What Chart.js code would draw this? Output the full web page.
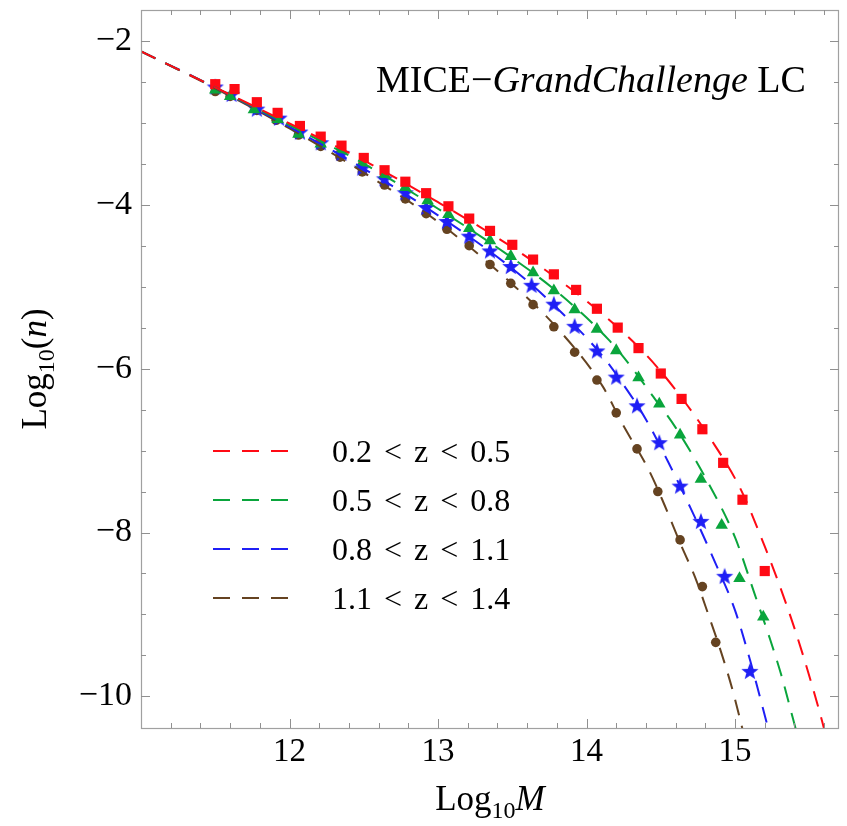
<!DOCTYPE html>
<html>
<head>
<meta charset="utf-8">
<script src="https://cdn.jsdelivr.net/npm/chart.js@4/dist/chart.umd.min.js"></script>
<style>
  html, body { margin: 0; padding: 0; background: #fff; }
</style>
</head>
<body>
<canvas id="hmf" width="847" height="826"></canvas>
<script>
// --- data (Log10 M, Log10 n) ---
const seriesLabels = ['0.2 < z < 0.5', '0.5 < z < 0.8', '0.8 < z < 1.1', '1.1 < z < 1.4'];
const seriesColors = ['#ff0a14', '#0aa53c', '#1f1ff5', '#654321'];

// simulation points
const redX = [11.50, 11.63, 11.78, 11.92, 12.07, 12.21, 12.35, 12.50, 12.64, 12.78, 12.92, 13.07, 13.21, 13.35, 13.50, 13.64, 13.78, 13.93, 14.07, 14.21, 14.35, 14.50, 14.64, 14.78, 14.92, 15.05, 15.20];
const redY = [-2.53, -2.59, -2.75, -2.88, -3.04, -3.17, -3.28, -3.43, -3.58, -3.72, -3.86, -4.02, -4.17, -4.32, -4.49, -4.67, -4.85, -5.04, -5.27, -5.50, -5.75, -6.06, -6.37, -6.74, -7.15, -7.60, -8.47];
const greenX = [11.50, 11.60, 11.76, 11.92, 12.06, 12.21, 12.35, 12.49, 12.64, 12.78, 12.93, 13.07, 13.21, 13.35, 13.49, 13.64, 13.78, 13.92, 14.07, 14.20, 14.35, 14.49, 14.63, 14.77, 14.91, 15.03, 15.19];
const greenY = [-2.60, -2.68, -2.84, -2.96, -3.14, -3.26, -3.33, -3.49, -3.63, -3.79, -3.95, -4.12, -4.29, -4.44, -4.63, -4.83, -5.05, -5.28, -5.52, -5.78, -6.11, -6.43, -6.81, -7.35, -7.91, -8.56, -9.03];
const blueX = [11.50, 11.61, 11.78, 11.93, 12.07, 12.21, 12.35, 12.49, 12.64, 12.78, 12.92, 13.06, 13.21, 13.35, 13.49, 13.63, 13.78, 13.92, 14.07, 14.20, 14.34, 14.49, 14.63, 14.77, 14.93, 15.10];
const blueY = [-2.57, -2.66, -2.84, -2.95, -3.12, -3.25, -3.38, -3.56, -3.69, -3.86, -4.04, -4.21, -4.39, -4.57, -4.76, -4.99, -5.22, -5.49, -5.79, -6.11, -6.46, -6.91, -7.44, -7.87, -8.54, -9.70];
const brownX = [11.50, 11.60, 11.78, 11.91, 12.06, 12.21, 12.34, 12.49, 12.64, 12.78, 12.92, 13.06, 13.21, 13.35, 13.49, 13.64, 13.78, 13.92, 14.07, 14.20, 14.34, 14.48, 14.63, 14.78, 14.87];
const brownY = [-2.62, -2.68, -2.85, -2.97, -3.15, -3.29, -3.42, -3.60, -3.76, -3.93, -4.11, -4.30, -4.50, -4.73, -4.96, -5.22, -5.49, -5.80, -6.14, -6.54, -6.98, -7.50, -8.09, -8.66, -9.34];

// dashed fit curves
const redFitX = [11.0, 11.5, 12.0, 12.5, 13.0, 13.5, 13.8, 14.13, 14.40, 14.60, 14.84, 15.04, 15.20, 15.35, 15.46, 15.58, 15.65];
const redFitY = [-2.13, -2.57, -3.01, -3.46, -3.97, -4.52, -4.90, -5.37, -5.83, -6.26, -6.87, -7.48, -8.17, -8.90, -9.51, -10.26, -10.76];
const greenFitX = [11.0, 11.5, 12.0, 12.5, 13.0, 13.5, 13.8, 14.15, 14.31, 14.44, 14.60, 14.80, 15.00, 15.13, 15.23, 15.31, 15.39, 15.46];
const greenFitY = [-2.13, -2.57, -3.03, -3.50, -4.05, -4.65, -5.06, -5.65, -6.00, -6.32, -6.72, -7.33, -8.06, -8.74, -9.27, -9.73, -10.27, -10.75];
const blueFitX = [11.0, 11.5, 12.0, 12.5, 13.0, 13.5, 13.8, 14.10, 14.25, 14.40, 14.55, 14.70, 14.85, 15.00, 15.10, 15.21, 15.28];
const blueFitY = [-2.13, -2.57, -3.05, -3.56, -4.13, -4.78, -5.26, -5.83, -6.20, -6.62, -7.14, -7.70, -8.30, -8.95, -9.55, -10.30, -10.78];
const brownFitX = [11.0, 11.5, 12.0, 12.5, 13.0, 13.5, 13.8, 14.11, 14.24, 14.42, 14.51, 14.64, 14.73, 14.82, 14.91, 14.98, 15.03, 15.09];
const brownFitY = [-2.13, -2.58, -3.07, -3.61, -4.21, -4.97, -5.50, -6.22, -6.67, -7.24, -7.60, -8.17, -8.54, -9.00, -9.48, -9.90, -10.25, -10.70];

// axes
const xTickLabels = [12, 13, 14, 15];
const yTickLabels = [-2, -4, -6, -8, -10];
const X_MIN = 11.0, X_MAX = 15.7;
const Y_MIN = -10.385, Y_MAX = -1.625;

const SERIF = "'Liberation Serif', 'Times New Roman', serif";

const toPoints = (xs, ys) => xs.map((x, i) => ({ x, y: ys[i] }));

// filled five point star for the blue markers
const makeStar = (r, color) => {
    const c = document.createElement('canvas');
    const s = Math.ceil(2 * r + 2);
    c.width = s; c.height = s;
    const g = c.getContext('2d');
    g.fillStyle = color;
    g.beginPath();
    for (let i = 0; i < 10; i++) {
        const a = -Math.PI / 2 + i * Math.PI / 5;
        const rr = i % 2 ? r * 0.42 : r;
        g.lineTo(s / 2 + rr * Math.cos(a), s / 2 + rr * Math.sin(a));
    }
    g.closePath();
    g.fill();
    return c;
};

const markerSets = [
    { x: redX, y: redY, style: 'rect', radius: 7.2 },
    { x: greenX, y: greenY, style: 'triangle', radius: 7.2 },
    { x: blueX, y: blueY, style: makeStar(9, seriesColors[2]), radius: 8 },
    { x: brownX, y: brownY, style: 'circle', radius: 4.8 },
];
const fitSets = [
    { x: redFitX, y: redFitY },
    { x: greenFitX, y: greenFitY },
    { x: blueFitX, y: blueFitY },
    { x: brownFitX, y: brownFitY },
];

const datasets = [];
fitSets.forEach((f, i) => {
    datasets.push({
        label: seriesLabels[i],
        data: toPoints(f.x, f.y),
        showLine: true,
        borderColor: seriesColors[i],
        borderWidth: 2,
        borderDash: [16, 11],
        pointRadius: 0,
        cubicInterpolationMode: 'monotone',
        fill: false,
    });
});
markerSets.forEach((m, i) => {
    datasets.push({
        label: seriesLabels[i] + ' (sim)',
        data: toPoints(m.x, m.y),
        showLine: false,
        pointStyle: m.style,
        pointRadius: m.radius,
        pointBackgroundColor: seriesColors[i],
        pointBorderWidth: 0,
    });
});

// draws text made of pieces (normal / italic / subscript)
const drawRich = (ctx, parts, x, y, align, gap = 0) => {
    let total = 0;
    parts.forEach(p => { ctx.font = p.font; p.w = ctx.measureText(p.t).width; total += p.w; });
    total += gap * (parts.length - 1);
    let cx = align === 'center' ? x - total / 2 : x;
    parts.forEach(p => {
        ctx.font = p.font;
        ctx.fillText(p.t, cx, y + (p.dy || 0));
        cx += p.w + gap;
    });
};

const decorations = {
    id: 'decorations',
    afterDraw(chart) {
        const { ctx, chartArea: a, scales: { x, y } } = chart;
        ctx.save();

        // frame
        ctx.strokeStyle = '#a0a0a0';
        ctx.lineWidth = 1.2;
        ctx.strokeRect(a.left + 0.5, a.top + 0.5, a.right - a.left - 1, a.bottom - a.top);

        // inward ticks on all four sides
        ctx.lineWidth = 1;
        ctx.strokeStyle = '#909090';
        ctx.beginPath();
        for (let v = 11.2; v < X_MAX - 1e-6; v += 0.2) {
            const major = Math.abs(v - Math.round(v)) < 1e-6;
            const len = major ? 9 : 5;
            const px = Math.round(x.getPixelForValue(v)) + 0.5;
            ctx.moveTo(px, a.bottom); ctx.lineTo(px, a.bottom - len);
            ctx.moveTo(px, a.top); ctx.lineTo(px, a.top + len);
        }
        for (let v = -10; v <= -2 + 1e-6; v += 0.5) {
            const major = Math.abs(v - Math.round(v)) < 1e-6 && Math.round(v) % 2 === 0;
            const len = major ? 9 : 5;
            const py = Math.round(y.getPixelForValue(v)) + 0.5;
            ctx.moveTo(a.left, py); ctx.lineTo(a.left + len, py);
            ctx.moveTo(a.right, py); ctx.lineTo(a.right - len, py);
        }
        ctx.stroke();

        ctx.fillStyle = '#000';
        ctx.textBaseline = 'alphabetic';

        // annotation
        drawRich(ctx, [
            { t: 'MICE\u2212', font: `38px ${SERIF}` },
            { t: 'GrandChallenge', font: `italic 38px ${SERIF}` },
            { t: ' LC', font: `38px ${SERIF}` },
        ], 376, 92, 'left');

        // legend
        const legendY = [451, 500, 549, 598];
        seriesLabels.forEach((lab, i) => {
            ctx.strokeStyle = seriesColors[i];
            ctx.lineWidth = 2;
            ctx.setLineDash([17, 12]);
            ctx.beginPath();
            ctx.moveTo(213, legendY[i]);
            ctx.lineTo(289, legendY[i]);
            ctx.stroke();
            ctx.setLineDash([]);
            const parts = lab.split(' ').map(t => ({ t, font: `32px ${SERIF}` }));
            drawRich(ctx, parts, 332, legendY[i] + 11, 'left', 12);
        });

        // axis titles
        drawRich(ctx, [
            { t: 'Log', font: `35px ${SERIF}` },
            { t: '10', font: `24px ${SERIF}`, dy: 8 },
            { t: 'M', font: `italic 35px ${SERIF}` },
        ], 490, 810, 'center');

        ctx.save();
        ctx.translate(46, 369);
        ctx.rotate(-Math.PI / 2);
        drawRich(ctx, [
            { t: 'Log', font: `35px ${SERIF}` },
            { t: '10', font: `24px ${SERIF}`, dy: 8 },
            { t: '(', font: `35px ${SERIF}` },
            { t: 'n', font: `italic 35px ${SERIF}` },
            { t: ')', font: `35px ${SERIF}` },
        ], 0, 0, 'center');
        ctx.restore();

        ctx.restore();
    }
};

// keep chart.js from reserving room for half tick labels
const noPadding = (s) => {
    s.paddingTop = 0; s.paddingBottom = 0;
    s.paddingLeft = 0; s.paddingRight = 0;
};

const ctx = document.getElementById('hmf').getContext('2d');
new Chart(ctx, {
    type: 'scatter',
    data: { datasets },
    options: {
        responsive: false,
        animation: false,
        devicePixelRatio: 1,
        layout: { padding: { top: 10, right: 1, left: 0, bottom: 0 } },
        plugins: {
            legend: { display: false },
            tooltip: { enabled: false },
        },
        scales: {
            x: {
                type: 'linear',
                min: X_MIN,
                max: X_MAX,
                afterBuildTicks: (s) => { s.ticks = xTickLabels.map(v => ({ value: v })); },
                afterFit: (s) => { s.height = 98; noPadding(s); },
                grid: { display: false, drawTicks: false },
                border: { display: false },
                ticks: {
                    color: '#000',
                    font: { family: SERIF, size: 33 },
                    padding: 5,
                    maxRotation: 0,
                    autoSkip: false,
                    callback: (v) => String(v),
                },
            },
            y: {
                type: 'linear',
                min: Y_MIN,
                max: Y_MAX,
                afterBuildTicks: (s) => { s.ticks = yTickLabels.map(v => ({ value: v })); },
                afterFit: (s) => { s.width = 141; noPadding(s); },
                grid: { display: false, drawTicks: false },
                border: { display: false },
                ticks: {
                    color: '#000',
                    font: { family: SERIF, size: 34 },
                    padding: 9,
                    autoSkip: false,
                    callback: (v) => (v < 0 ? '\u2212' + Math.abs(v) : String(v)),
                },
            },
        },
    },
    plugins: [decorations],
});
</script>
</body>
</html>
